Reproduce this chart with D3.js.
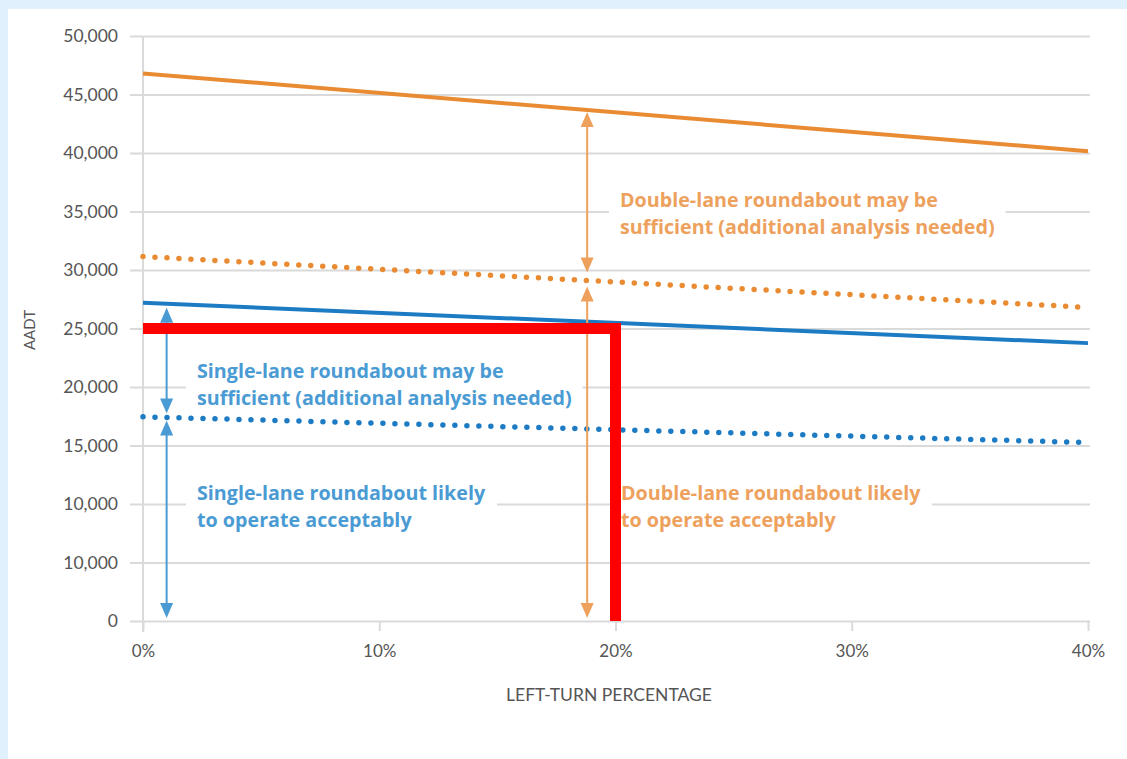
<!DOCTYPE html>
<html><head><meta charset="utf-8">
<script src="https://cdn.jsdelivr.net/npm/d3@7/dist/d3.min.js"></script>
<style>
html,body{margin:0;padding:0;background:#e1f0fd;}
svg{display:block;}
</style></head>
<body>
<svg id="chart" width="1127" height="759"></svg>
<script>
// ---- data ----
const xTickValues = [0, 10, 20, 30, 40];
const xTickLabels = ["0%", "10%", "20%", "30%", "40%"];
const yTickValues = [0, 5000, 10000, 15000, 20000, 25000, 30000, 35000, 40000, 45000, 50000];
const yTickLabels = ["0", "10,000", "10,000", "15,000", "20,000", "25,000", "30,000", "35,000", "40,000", "45,000", "50,000"];
const leftTurnPct = [0, 40];
const doubleLaneUpper = [46800, 40150];
const doubleLaneLower = [31150, 26800];
const singleLaneUpper = [27200, 23750];
const singleLaneLower = [17450, 15250];
const thresholdPct = [0, 20, 20];
const thresholdAADT = [25000, 25000, 0];
const singleArrowPct = 1;
const doubleArrowPct = 18.8;
const labelSingleMay = ["Single-lane roundabout may be", "sufficient (additional analysis needed)"];
const labelSingleLikely = ["Single-lane roundabout likely", "to operate acceptably"];
const labelDoubleMay = ["Double-lane roundabout may be", "sufficient (additional analysis needed)"];
const labelDoubleLikely = ["Double-lane roundabout likely", "to operate acceptably"];
const xTitle = "LEFT-TURN PERCENTAGE";
const yTitle = "AADT";

// ---- layout ----
const svg = d3.select("#chart");
svg.append("rect").attr("x", 8).attr("y", 9).attr("width", 1127 - 8).attr("height", 759 - 9).attr("fill", "#ffffff");

const x = d3.scaleLinear().domain([0, 40]).range([143, 1088]);
const y = d3.scaleLinear().domain([0, 50000]).range([621, 36]);

const gridColor = "#dadada";
const orange = "#e98b33", blue = "#1d7bc4";
const orangeLt = "#eda15d", blueLt = "#4a9bd3";
const fontFam = "Lato, 'Noto Sans', sans-serif";
const labelFont = "'Open Sans', 'Noto Sans', sans-serif";

// y grid + axis
const yAxis = d3.axisLeft(y).tickValues(yTickValues)
  .tickFormat((d, i) => yTickLabels[i])
  .tickSize(-(1090 - 143)).tickPadding(12);
const gy = svg.append("g").attr("transform", "translate(143,0)").call(yAxis);
gy.select(".domain").remove();
gy.selectAll(".tick line").attr("stroke", gridColor).attr("stroke-width", 2).attr("x1", -13).attr("x2", 1090 - 143);
gy.selectAll(".tick text").attr("fill", "#555555").attr("font-family", fontFam).attr("font-size", 17.5).attr("x", -25);

// x axis
const xAxis = d3.axisBottom(x).tickValues(xTickValues)
  .tickFormat((d, i) => xTickLabels[i]).tickSize(10).tickPadding(14);
const gx = svg.append("g").attr("transform", "translate(0,621)").call(xAxis);
gx.select(".domain").remove();
gx.selectAll(".tick line").attr("stroke", gridColor).attr("stroke-width", 2);
gx.selectAll(".tick text").attr("fill", "#555555").attr("font-family", fontFam).attr("font-size", 17);
// vertical axis line at 0%
svg.append("line").attr("x1", x(0)).attr("x2", x(0)).attr("y1", y(50000)).attr("y2", 632)
  .attr("stroke", gridColor).attr("stroke-width", 2);

// titles
svg.append("text").attr("x", 609).attr("y", 701).attr("text-anchor", "middle")
  .attr("font-family", fontFam).attr("font-size", 17.5).attr("fill", "#555555").text(xTitle);
svg.append("text").attr("transform", "translate(35,330) rotate(-90)").attr("text-anchor", "middle")
  .attr("font-family", fontFam).attr("font-size", 15).attr("fill", "#555555").text(yTitle);

// label blocks with white background (cover gridlines)
function labelBlock(lines, px, py, color) {
  const g = svg.append("g");
  const bg = g.append("rect").attr("fill", "#fff");
  const t = g.append("text").attr("font-family", labelFont).attr("font-weight", 700)
    .attr("font-size", 19.7).attr("fill", color);
  lines.forEach((s, i) => t.append("tspan").attr("x", px).attr("y", py + i * 27).text(s));
  const bb = t.node().getBBox();
  bg.attr("x", bb.x - 11).attr("y", bb.y - 4).attr("width", bb.width + 22).attr("height", bb.height + 8);
  return g;
}

// lines
const lineGen = d3.line().x(d => x(d[0])).y(d => y(d[1]));
function series(vals, color, dotted) {
  const p = svg.append("path").datum(leftTurnPct.map((v, i) => [v, vals[i]]))
    .attr("d", lineGen).attr("fill", "none").attr("stroke", color);
  if (dotted) p.attr("stroke-width", 5.5).attr("stroke-linecap", "round").attr("stroke-dasharray", "0 12");
  else p.attr("stroke-width", 4);
}

labelBlock(labelDoubleMay, 620, 207, orangeLt);
labelBlock(labelSingleMay, 197, 378, blueLt);
labelBlock(labelSingleLikely, 197, 500, blueLt);
labelBlock(labelDoubleLikely, 621, 500, orangeLt);

series(doubleLaneUpper, orange, false);
series(doubleLaneLower, orange, true);
series(singleLaneUpper, blue, false);
series(singleLaneLower, blue, true);

// arrows
const interp = (vals, p) => vals[0] + (vals[1] - vals[0]) * (p - leftTurnPct[0]) / (leftTurnPct[1] - leftTurnPct[0]);
function dblArrow(pct, v1, v2, color, gapTop, gapBot) {
  const ax = x(pct);
  const yTop = y(v2) + gapTop, yBot = y(v1) - gapBot;
  const hw = 6.5, hh = 15;
  svg.append("line").attr("x1", ax).attr("x2", ax).attr("y1", yTop + 4).attr("y2", yBot - 4)
    .attr("stroke", color).attr("stroke-width", 2);
  svg.append("path").attr("d", `M${ax},${yTop}L${ax - hw},${yTop + hh}L${ax + hw},${yTop + hh}Z`).attr("fill", color);
  svg.append("path").attr("d", `M${ax},${yBot}L${ax - hw},${yBot - hh}L${ax + hw},${yBot - hh}Z`).attr("fill", color);
}
dblArrow(singleArrowPct, 0, interp(singleLaneLower, singleArrowPct), blueLt, 3, 3);
dblArrow(singleArrowPct, interp(singleLaneLower, singleArrowPct), interp(singleLaneUpper, singleArrowPct), blueLt, 4, 4);
dblArrow(doubleArrowPct, 0, interp(doubleLaneLower, doubleArrowPct), orangeLt, 6, 3);
dblArrow(doubleArrowPct, interp(doubleLaneLower, doubleArrowPct), interp(doubleLaneUpper, doubleArrowPct), orangeLt, 2, 8);

// threshold (red)
svg.append("path").datum(thresholdPct.map((v, i) => [v, thresholdAADT[i]]))
  .attr("d", lineGen).attr("fill", "none").attr("stroke", "#ff0000")
  .attr("stroke-width", 11).attr("stroke-linejoin", "miter").attr("stroke-linecap", "butt");
</script>
</body></html>
